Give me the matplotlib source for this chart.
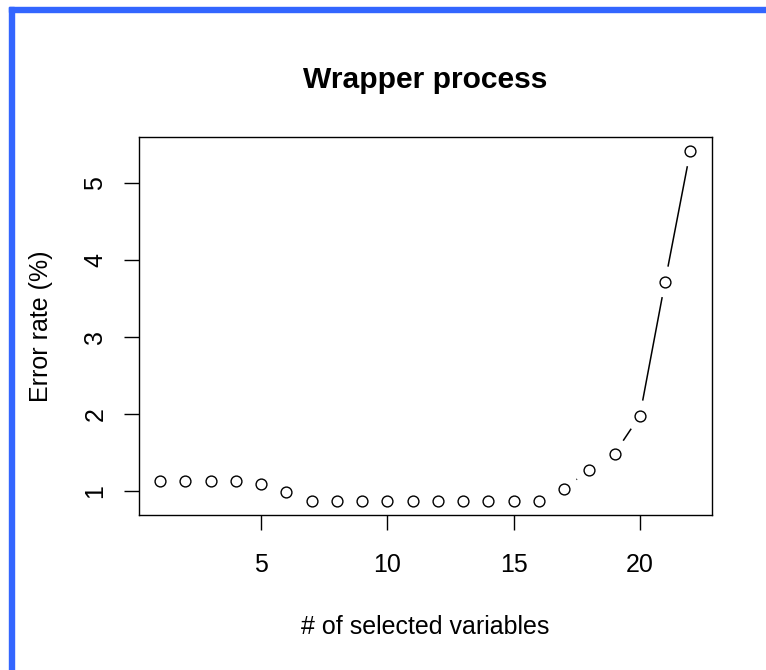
import numpy as np
import matplotlib
matplotlib.use("Agg")
import matplotlib.pyplot as plt
from matplotlib.patches import Rectangle

# data
n_vars = list(range(1, 23))
error_rate = [1.13, 1.13, 1.13, 1.13, 1.09, 0.99, 0.88, 0.88, 0.88, 0.88,
              0.88, 0.88, 0.88, 0.88, 0.88, 0.88, 1.03, 1.28, 1.49, 1.98,
              3.72, 5.42]
x_ticks = [5, 10, 15, 20]
y_ticks = [1, 2, 3, 4, 5]

plt.rcParams['font.family'] = ['Liberation Sans', 'DejaVu Sans']

W, H = 766, 670
fig = plt.figure(figsize=(W / 100, H / 100), dpi=100)

# blue frame on left and top
fig.patches.append(Rectangle((9 / W, 0), 4.7 / W, (H - 7) / H, transform=fig.transFigure,
                             color='#3366FF', zorder=0))
fig.patches.append(Rectangle((9 / W, (H - 12) / H), (W - 9) / W, 5 / H, transform=fig.transFigure,
                             color='#3366FF', zorder=0))

left, right, top, bottom = 139, 711.5, 137, 514.5
ax = fig.add_axes([left / W, (H - bottom) / H, (right - left) / W, (bottom - top) / H])

# R style axis limits (4% extension)
xs = np.array(n_vars, dtype=float)
ys = np.array(error_rate)
dx = 0.04 * (xs.max() - xs.min())
dy = 0.04 * (ys.max() - ys.min())
ax.set_xlim(xs.min() - dx, xs.max() + dx)
ax.set_ylim(ys.min() - dy, ys.max() + dy)

# type = "b": segments with gaps around points
gap = 15.5
pix = ax.transData.transform(np.column_stack([xs, ys]))
inv = ax.transData.inverted()
for i in range(len(pix) - 1):
    p0, p1 = pix[i], pix[i + 1]
    d = p1 - p0
    L = np.hypot(*d)
    if L > 2 * gap:
        u = d / L
        a = inv.transform(p0 + u * gap)
        b = inv.transform(p1 - u * gap)
        ax.plot([a[0], b[0]], [a[1], b[1]], color='black', lw=1.1, solid_capstyle='butt')

ax.plot(xs, ys, linestyle='none', marker='o', markersize=7.8, markerfacecolor='none',
        markeredgecolor='black', markeredgewidth=1.0)

for s in ax.spines.values():
    s.set_linewidth(1.0)

ax.set_xticks(x_ticks)
ax.set_yticks(y_ticks)
ax.set_xticklabels([str(t) for t in x_ticks])
ax.set_yticklabels([str(t) for t in y_ticks], rotation=90, va='center')
ax.tick_params(axis='both', length=10.8, width=1.0, labelsize=18)
ax.tick_params(axis='x', pad=17)
ax.tick_params(axis='y', pad=12)

ax.set_xlabel('# of selected variables', fontsize=18, labelpad=27)
ax.set_ylabel('Error rate (%)', fontsize=18, labelpad=21.5)
fig.text((left + right) / 2 / W, 1 - 88 / H, 'Wrapper process', fontsize=21.6,
         fontweight='bold', ha='center', va='baseline')

fig.savefig('out.png', dpi=100)
